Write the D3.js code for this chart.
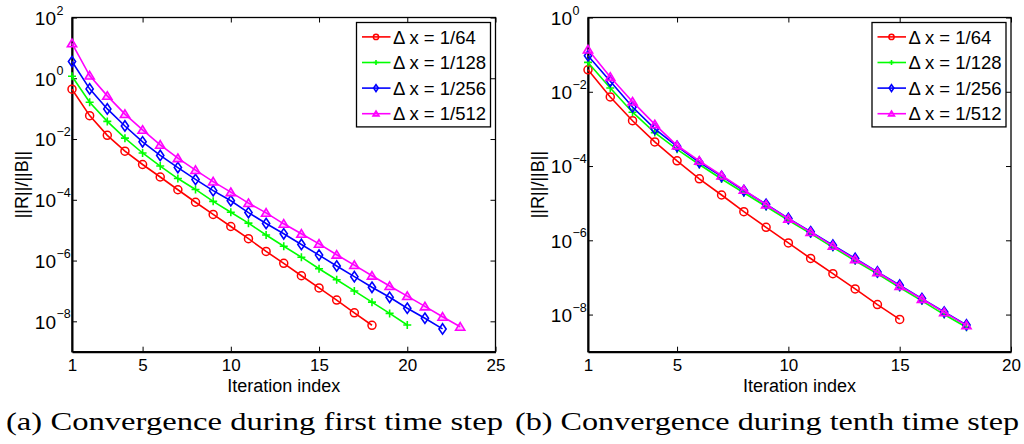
<!DOCTYPE html>
<html>
<head>
<meta charset="utf-8">
<script src="https://cdn.jsdelivr.net/npm/d3@7"></script>
<style>
  html, body { margin: 0; padding: 0; background: #fff; }
  svg { display: block; }
  text { font-family: "Liberation Sans", Arial, sans-serif; fill: #000; }
</style>
</head>
<body>
<svg id="chart" width="1024" height="444"></svg>
<script>
// ---------- DATA ----------
const seriesLabels = ["\u0394 x = 1/64", "\u0394 x = 1/128", "\u0394 x = 1/256", "\u0394 x = 1/512"];
const seriesColors = ["#ff0000", "#00ff00", "#0000ff", "#ff00ff"];
const seriesMarkers = ["circle", "plus", "diamond", "triangle"];

// (a) first time step: residual per iteration (iteration index 1..n)
const firstDx64  = [4.37e-1, 5.89e-2, 1.32e-2, 3.98e-3, 1.45e-3, 5.62e-4, 2.14e-4, 8.3e-5, 3.31e-5, 1.32e-5, 5.25e-6, 2.0e-6, 8.13e-7, 3.16e-7, 1.26e-7, 5.0e-8, 1.91e-8, 7.41e-9];
const firstDx128 = [1.17, 1.62e-1, 3.8e-2, 1.07e-2, 3.47e-3, 1.29e-3, 5.0e-4, 2.19e-4, 8.9e-5, 3.89e-5, 1.7e-5, 6.92e-6, 2.95e-6, 1.29e-6, 5.37e-7, 2.34e-7, 1.0e-7, 4.27e-8, 1.82e-8, 7.59e-9];
const firstDx256 = [3.55, 4.47e-1, 9.8e-2, 2.69e-2, 8.1e-3, 2.88e-3, 1.15e-3, 4.68e-4, 2.0e-4, 9.3e-5, 3.8e-5, 1.66e-5, 7.59e-6, 3.39e-6, 1.51e-6, 6.61e-7, 2.95e-7, 1.32e-7, 6.17e-8, 2.69e-8, 1.26e-8, 5.62e-9];
const firstDx512 = [14.1, 1.23, 2.63e-1, 6.61e-2, 2.0e-2, 6.46e-3, 2.34e-3, 9.5e-4, 3.98e-4, 1.78e-4, 7.76e-5, 3.72e-5, 1.62e-5, 7.59e-6, 3.55e-6, 1.55e-6, 7.08e-7, 3.16e-7, 1.45e-7, 6.76e-8, 3.09e-8, 1.41e-8, 6.61e-9];

// (b) tenth time step
const tenthDx64  = [3.89e-2, 7.24e-3, 1.66e-3, 4.47e-4, 1.38e-4, 4.52e-5, 1.66e-5, 5.89e-6, 2.24e-6, 8.51e-7, 3.24e-7, 1.26e-7, 4.9e-8, 1.86e-8, 7.41e-9];
const tenthDx128 = [6.17e-2, 1.26e-2, 2.82e-3, 7.94e-4, 2.82e-4, 1.1e-4, 4.47e-5, 1.91e-5, 8.13e-6, 3.47e-6, 1.51e-6, 6.46e-7, 2.82e-7, 1.26e-7, 5.37e-8, 2.34e-8, 1.0e-8, 4.57e-9];
const tenthDx256 = [9.33e-2, 1.91e-2, 3.89e-3, 1.0e-3, 3.39e-4, 1.26e-4, 5.25e-5, 2.19e-5, 9.33e-6, 3.89e-6, 1.7e-6, 7.41e-7, 3.24e-7, 1.41e-7, 6.17e-8, 2.69e-8, 1.17e-8, 5.25e-9];
const tenthDx512 = [1.37e-1, 2.51e-2, 5.41e-3, 1.32e-3, 3.57e-4, 1.38e-4, 5.55e-5, 2.29e-5, 9.12e-6, 3.8e-6, 1.66e-6, 7.08e-7, 3.09e-7, 1.38e-7, 5.89e-8, 2.63e-8, 1.15e-8, 5.13e-9];

const xTicksFirst = [1, 5, 10, 15, 20, 25];
const xTicksTenth = [1, 5, 10, 15, 20];
const yExpFirst = [2, 0, -2, -4, -6, -8];
const yExpTenth = [0, -2, -4, -6, -8];
const xLabel = "Iteration index";
const yLabel = "||R||/||B||";
const captions = ["(a) Convergence during first time step", "(b) Convergence during tenth time step"];

// ---------- DRAW ----------
const svg = d3.select("#chart");

function markerPath(type, s) {
  if (type === "plus") return `M${-s},0H${s}M0,${-s}V${s}`;
  if (type === "diamond") return `M0,${-s * 1.3}L${s * 0.9},0L0,${s * 1.3}L${-s * 0.9},0Z`;
  if (type === "triangle") return `M0,${-s * 1.05}L${s * 1.15},${s * 0.85}L${-s * 1.15},${s * 0.85}Z`;
  return null;
}

function drawMarker(g, type, color, s, x, y) {
  if (type === "circle") {
    g.append("circle").attr("cx", x).attr("cy", y).attr("r", s)
      .attr("fill", "none").attr("stroke", color).attr("stroke-width", 1.5);
  } else {
    g.append("path").attr("transform", `translate(${x},${y})`)
      .attr("d", markerPath(type, s))
      .attr("fill", type === "triangle" ? "rgba(255,0,255,0.25)" : "none")
      .attr("stroke", color).attr("stroke-width", 1.6);
  }
}

function panel(cfg) {
  const { x0, x1, y0, y1, xDomain, yDomain, xTicks, yExps, series } = cfg;
  const x = d3.scaleLinear().domain(xDomain).range([x0, x1]);
  const y = d3.scaleLog().domain(yDomain).range([y1, y0]);
  const yTickVals = yExps.map(e => Math.pow(10, e));
  const g = svg.append("g");

  // frame
  g.append("rect").attr("x", x0).attr("y", y0).attr("width", x1 - x0).attr("height", y1 - y0)
    .attr("fill", "#fff").attr("stroke", "#000").attr("stroke-width", 1.3);

  // bottom axis
  const gx = g.append("g").attr("transform", `translate(0,${y1})`)
    .call(d3.axisBottom(x).tickValues(xTicks).tickSizeInner(-5).tickSizeOuter(0).tickPadding(7).tickFormat(d3.format("d")));
  gx.select(".domain").attr("stroke-width", 2);
  gx.selectAll(".tick line").attr("stroke-width", 1);
  gx.selectAll(".tick text").attr("font-size", 17).attr("font-family", "Liberation Sans, Arial, sans-serif").attr("dy", "0.72em");

  // top mirrored ticks
  const gt = g.append("g").attr("transform", `translate(0,${y0})`)
    .call(d3.axisTop(x).tickValues(xTicks).tickSizeInner(-5).tickSizeOuter(0).tickFormat(""));
  gt.select(".domain").remove();

  // left axis
  const gy = g.append("g").attr("transform", `translate(${x0},0)`)
    .call(d3.axisLeft(y).tickValues(yTickVals).tickSizeInner(-5).tickSizeOuter(0).tickFormat(""));
  gy.select(".domain").attr("stroke-width", 2);
  gy.selectAll(".tick").each(function (d) {
    const t = d3.select(this);
    const e = Math.round(Math.log10(d));
    t.append("text").attr("x", -16).attr("y", 0).attr("dy", "0.36em")
      .attr("text-anchor", "end").attr("font-size", 19).text("10");
    t.append("text").attr("x", -15.5).attr("y", -8).attr("dy", "0.36em")
      .attr("text-anchor", "start").attr("font-size", 12.5)
      .text(e < 0 ? "\u2212" + Math.abs(e) : String(e));
  });

  // right mirrored ticks
  const gr = g.append("g").attr("transform", `translate(${x1},0)`)
    .call(d3.axisRight(y).tickValues(yTickVals).tickSizeInner(-5).tickSizeOuter(0).tickFormat(""));
  gr.select(".domain").remove();

  // series
  const line = d3.line().x((d, i) => x(i + 1)).y(d => y(d));
  series.forEach((vals, k) => {
    g.append("path").datum(vals).attr("d", line)
      .attr("fill", "none").attr("stroke", seriesColors[k]).attr("stroke-width", 1.6);
    const mg = g.append("g");
    vals.forEach((v, i) => drawMarker(mg, seriesMarkers[k], seriesColors[k], 4, x(i + 1), y(v)));
  });

  // axis labels
  g.append("text").attr("x", (x0 + x1) / 2).attr("y", 391.5)
    .attr("text-anchor", "middle").attr("font-size", 18).text(xLabel);
  g.append("text").attr("transform", `translate(${x0 - 50},${(y0 + y1) / 2}) rotate(-90)`)
    .attr("dy", "0.36em").attr("text-anchor", "middle").attr("font-size", 18).text(yLabel);

  // legend
  const lx = x1 - 139, ly = y0 + 5, lw = 134, lh = 104.4;
  const lg = g.append("g");
  lg.append("rect").attr("x", lx).attr("y", ly).attr("width", lw).attr("height", lh)
    .attr("fill", "#fff").attr("stroke", "#000").attr("stroke-width", 1.3);
  seriesLabels.forEach((lab, k) => {
    const ry = ly + 14.4 + k * 25.6;
    lg.append("line").attr("x1", lx + 5.5).attr("x2", lx + 34).attr("y1", ry).attr("y2", ry)
      .attr("stroke", seriesColors[k]).attr("stroke-width", 1.6);
    drawMarker(lg, seriesMarkers[k], seriesColors[k], 2.6, lx + 19.5, ry);
    lg.append("text").attr("x", lx + 36.5).attr("y", ry).attr("dy", "0.36em")
      .attr("font-size", 18.5).text(lab);
  });
}

panel({ x0: 72, x1: 495.5, y0: 17.5, y1: 351.7, xDomain: [1, 25], yDomain: [1e-9, 1e2],
  xTicks: xTicksFirst, yExps: yExpFirst, series: [firstDx64, firstDx128, firstDx256, firstDx512] });
panel({ x0: 588, x1: 1011, y0: 17.5, y1: 351.7, xDomain: [1, 20], yDomain: [1e-9, 1e0],
  xTicks: xTicksTenth, yExps: yExpTenth, series: [tenthDx64, tenthDx128, tenthDx256, tenthDx512] });

// captions
const capPos = [[6, 497], [515, 504]];
captions.forEach((c, i) => {
  svg.append("text").attr("x", capPos[i][0]).attr("y", 430)
    .style("font-family", "'Liberation Serif', 'DejaVu Serif', serif").attr("font-size", 26)
    .attr("textLength", capPos[i][1]).attr("lengthAdjust", "spacingAndGlyphs").text(c);
});
</script>
</body>
</html>
